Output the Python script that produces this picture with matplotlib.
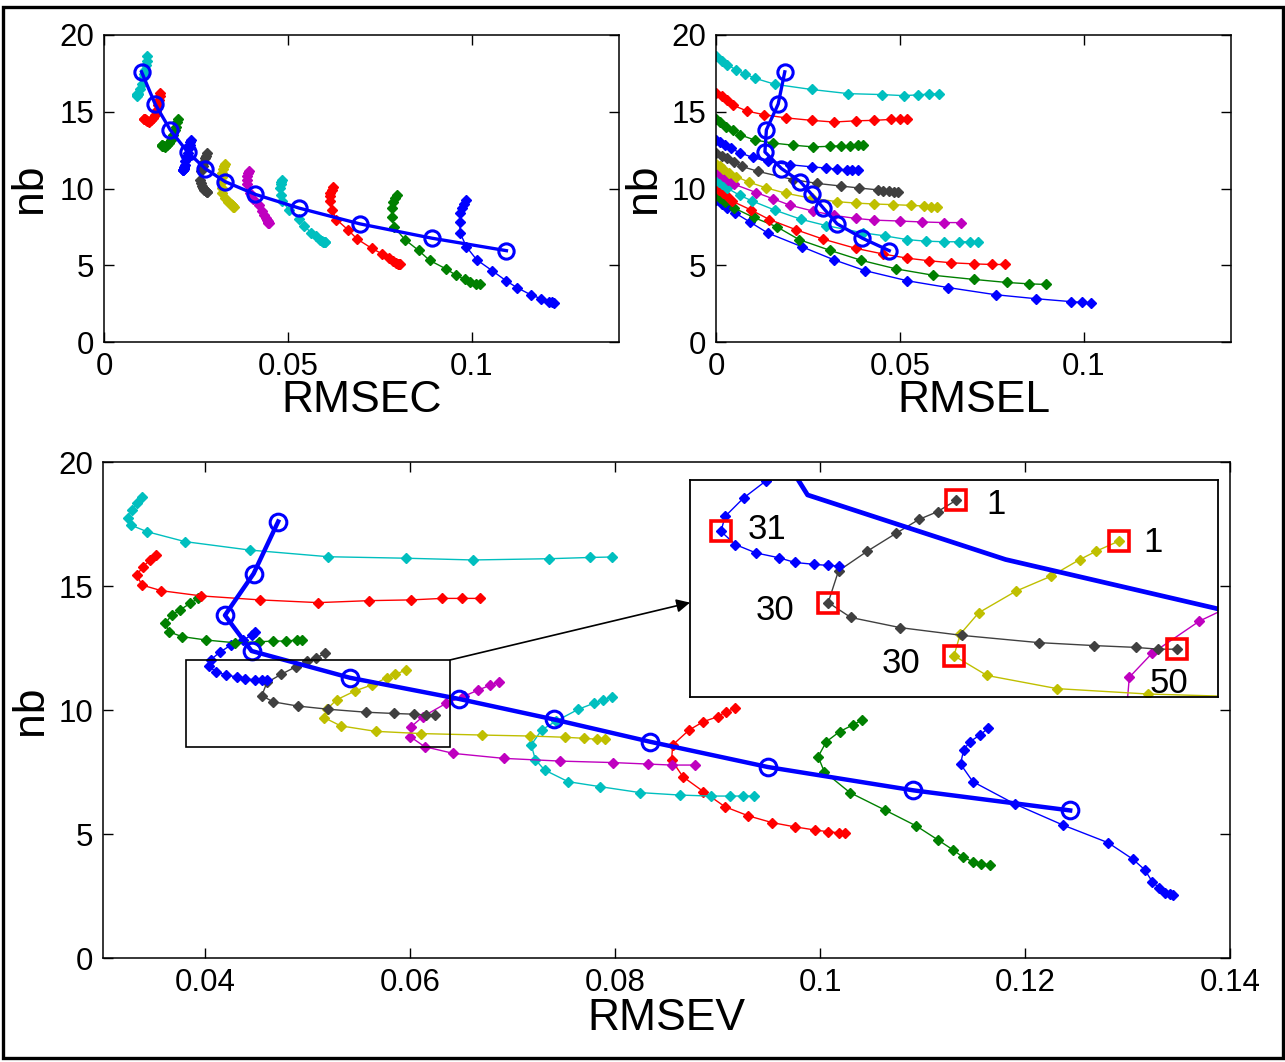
import matplotlib
matplotlib.use('Agg')
import matplotlib.pyplot as plt
from matplotlib.patches import Rectangle

plt.rcParams['font.family'] = ['Liberation Sans', 'DejaVu Sans']

# ---------------- data (nb shared by the three panels) ----------------
nb_1 = [9.27, 8.99, 8.72, 8.39, 7.82, 7.11, 6.21, 5.36, 4.65, 3.99, 3.55, 3.08, 2.82, 2.63, 2.58, 2.55]
rmsev_1 = [0.1164, 0.1156, 0.1146, 0.1140, 0.1137, 0.1149, 0.1190, 0.1237, 0.1281, 0.1305, 0.1317, 0.1324, 0.1331, 0.1337, 0.1341, 0.1344]
rmsel_1 = [0.0, 0.0015, 0.0030, 0.0053, 0.0092, 0.0140, 0.0233, 0.0320, 0.0405, 0.0520, 0.0630, 0.0760, 0.0870, 0.0965, 0.0995, 0.1020]
rmsec_1 = [0.0984, 0.0978, 0.0972, 0.0968, 0.0967, 0.0968, 0.0985, 0.1013, 0.1055, 0.1093, 0.1122, 0.1160, 0.1188, 0.1210, 0.1218, 0.1224]

nb_2 = [9.60, 9.40, 9.13, 8.72, 8.12, 7.51, 6.67, 5.97, 5.32, 4.76, 4.35, 4.08, 3.88, 3.79, 3.75]
rmsev_2 = [0.1041, 0.1032, 0.1019, 0.1006, 0.0998, 0.1004, 0.1029, 0.1063, 0.1094, 0.1115, 0.1130, 0.1139, 0.1149, 0.1157, 0.1166]
rmsel_2 = [0.0, 0.0010, 0.0025, 0.0050, 0.0102, 0.0165, 0.0226, 0.0310, 0.0395, 0.0490, 0.0590, 0.0700, 0.0790, 0.0850, 0.0896]
rmsec_2 = [0.0796, 0.0790, 0.0785, 0.0783, 0.0783, 0.0788, 0.0818, 0.0855, 0.0885, 0.0930, 0.0957, 0.0980, 0.0995, 0.1010, 0.1022]

nb_3 = [10.07, 9.93, 9.73, 9.53, 9.19, 8.59, 7.98, 7.31, 6.71, 6.10, 5.73, 5.46, 5.29, 5.16, 5.09, 5.05, 5.05]
rmsev_3 = [0.0917, 0.0908, 0.0900, 0.0886, 0.0872, 0.0856, 0.0855, 0.0866, 0.0886, 0.0907, 0.0930, 0.0953, 0.0975, 0.0995, 0.1008, 0.1018, 0.1024]
rmsel_3 = [0.0, 0.0008, 0.0020, 0.0030, 0.0043, 0.0096, 0.0145, 0.0218, 0.0290, 0.0380, 0.0455, 0.0520, 0.0580, 0.0640, 0.0700, 0.0750, 0.0786]
rmsec_3 = [0.0622, 0.0620, 0.0615, 0.0615, 0.0615, 0.0620, 0.0632, 0.0663, 0.0688, 0.0728, 0.0757, 0.0775, 0.0786, 0.0795, 0.0799, 0.0802, 0.0804]

nb_4 = [10.54, 10.40, 10.27, 10.03, 9.55, 9.19, 8.59, 8.00, 7.58, 7.11, 6.91, 6.67, 6.57, 6.53, 6.53, 6.53, 6.53]
rmsev_4 = [0.0797, 0.0788, 0.0779, 0.0764, 0.0742, 0.0728, 0.0718, 0.0722, 0.0731, 0.0754, 0.0785, 0.0824, 0.0863, 0.0893, 0.0912, 0.0925, 0.0935]
rmsel_4 = [0.0, 0.0008, 0.0016, 0.0030, 0.0065, 0.0098, 0.0160, 0.0230, 0.0300, 0.0400, 0.0460, 0.0520, 0.0570, 0.0620, 0.0660, 0.0690, 0.0713]
rmsec_4 = [0.0484, 0.0482, 0.0480, 0.0479, 0.0480, 0.0485, 0.0503, 0.0530, 0.0544, 0.0563, 0.0575, 0.0586, 0.0592, 0.0596, 0.0598, 0.0600, 0.0601]

nb_5 = [11.14, 11.00, 10.80, 10.55, 10.27, 9.73, 9.33, 8.92, 8.52, 8.25, 8.05, 7.94, 7.88, 7.82, 7.78, 7.78]
rmsev_5 = [0.0687, 0.0678, 0.0666, 0.0652, 0.0635, 0.0612, 0.0601, 0.0600, 0.0614, 0.0642, 0.0691, 0.0746, 0.0798, 0.0832, 0.0855, 0.0878]
rmsel_5 = [0.0, 0.0008, 0.0020, 0.0033, 0.0050, 0.0110, 0.0155, 0.0200, 0.0265, 0.0320, 0.0380, 0.0430, 0.0500, 0.0560, 0.0620, 0.0665]
rmsec_5 = [0.0393, 0.0392, 0.0390, 0.0388, 0.0389, 0.0397, 0.0405, 0.0420, 0.0429, 0.0436, 0.0441, 0.0443, 0.0445, 0.0446, 0.0447, 0.0448]

nb_6 = [11.61, 11.44, 11.30, 11.02, 10.77, 10.41, 10.05, 9.69, 9.36, 9.14, 9.05, 8.99, 8.95, 8.90, 8.86, 8.82, 8.82]
rmsev_6 = [0.0596, 0.0585, 0.0577, 0.0563, 0.0546, 0.0528, 0.0519, 0.0516, 0.0532, 0.0566, 0.0610, 0.0670, 0.0717, 0.0751, 0.0769, 0.0782, 0.0790]
rmsel_6 = [0.0, 0.0010, 0.0018, 0.0035, 0.0055, 0.0090, 0.0135, 0.0190, 0.0260, 0.0330, 0.0380, 0.0430, 0.0480, 0.0530, 0.0565, 0.0585, 0.0600]
rmsec_6 = [0.0328, 0.0326, 0.0324, 0.0321, 0.0320, 0.0320, 0.0320, 0.0320, 0.0330, 0.0338, 0.0342, 0.0345, 0.0347, 0.0349, 0.0351, 0.0352, 0.0353]

nb_7 = [12.29, 12.10, 11.97, 11.74, 11.44, 11.11, 10.58, 10.33, 10.16, 10.03, 9.91, 9.86, 9.83, 9.80, 9.80]
rmsev_7 = [0.0517, 0.0508, 0.0499, 0.0488, 0.0474, 0.0460, 0.0455, 0.0466, 0.0490, 0.0520, 0.0557, 0.0584, 0.0604, 0.0615, 0.0624]
rmsel_7 = [0.0, 0.0015, 0.0030, 0.0050, 0.0070, 0.0115, 0.0210, 0.0275, 0.0340, 0.0390, 0.0440, 0.0455, 0.0470, 0.0485, 0.0495]
rmsec_7 = [0.0279, 0.0276, 0.0274, 0.0271, 0.0268, 0.0265, 0.0262, 0.0263, 0.0266, 0.0269, 0.0273, 0.0276, 0.0278, 0.0280, 0.0281]

nb_8 = [13.16, 13.02, 12.82, 12.62, 12.33, 12.02, 11.77, 11.55, 11.41, 11.33, 11.25, 11.22, 11.20, 11.19]
rmsev_8 = [0.0448, 0.0445, 0.0437, 0.0425, 0.0414, 0.0405, 0.0403, 0.0410, 0.0420, 0.0431, 0.0439, 0.0448, 0.0455, 0.0460]
rmsel_8 = [0.0, 0.0010, 0.0025, 0.0040, 0.0065, 0.0100, 0.0140, 0.0200, 0.0260, 0.0300, 0.0330, 0.0355, 0.0370, 0.0385]
rmsec_8 = [0.0236, 0.0235, 0.0233, 0.0231, 0.0227, 0.0223, 0.0221, 0.0219, 0.0218, 0.0217, 0.0217, 0.0216, 0.0216, 0.0216]

nb_9 = [14.50, 14.30, 14.03, 13.83, 13.50, 13.16, 12.96, 12.82, 12.71, 12.75, 12.78, 12.78, 12.82, 12.82]
rmsev_9 = [0.0393, 0.0385, 0.0375, 0.0367, 0.0361, 0.0364, 0.0377, 0.0401, 0.0429, 0.0452, 0.0466, 0.0479, 0.0489, 0.0494]
rmsel_9 = [0.0, 0.0010, 0.0028, 0.0045, 0.0065, 0.0105, 0.0155, 0.0210, 0.0265, 0.0310, 0.0340, 0.0365, 0.0385, 0.0400]
rmsec_9 = [0.0202, 0.0198, 0.0195, 0.0192, 0.0188, 0.0183, 0.0178, 0.0172, 0.0167, 0.0163, 0.0160, 0.0158, 0.0157, 0.0157]

nb_10 = [16.25, 16.05, 15.78, 15.44, 15.04, 14.81, 14.60, 14.44, 14.33, 14.41, 14.44, 14.50, 14.50, 14.50]
rmsev_10 = [0.0352, 0.0346, 0.0339, 0.0333, 0.0338, 0.0357, 0.0396, 0.0453, 0.0510, 0.0560, 0.0601, 0.0631, 0.0650, 0.0668]
rmsel_10 = [0.0, 0.0015, 0.0030, 0.0045, 0.0085, 0.0130, 0.0190, 0.0260, 0.0320, 0.0380, 0.0430, 0.0475, 0.0500, 0.0520]
rmsec_10 = [0.0153, 0.0151, 0.0149, 0.0146, 0.0142, 0.0138, 0.0133, 0.0128, 0.0122, 0.0118, 0.0114, 0.0111, 0.0109, 0.0108]

nb_11 = [18.60, 18.33, 18.06, 17.73, 17.46, 17.19, 16.79, 16.45, 16.18, 16.12, 16.05, 16.10, 16.15, 16.17]
rmsev_11 = [0.0338, 0.0333, 0.0328, 0.0324, 0.0327, 0.0343, 0.0380, 0.0443, 0.0520, 0.0596, 0.0661, 0.0735, 0.0775, 0.0797]
rmsel_11 = [0.0, 0.0015, 0.0030, 0.0055, 0.0080, 0.0105, 0.0160, 0.0260, 0.0360, 0.0450, 0.0510, 0.0550, 0.0580, 0.0605]
rmsec_11 = [0.0118, 0.0117, 0.0114, 0.0112, 0.0110, 0.0107, 0.0103, 0.0097, 0.0093, 0.0091, 0.0090, 0.0090, 0.0091, 0.0092]

circ_nb = [17.60, 15.50, 13.82, 12.38, 11.30, 10.45, 9.62, 8.72, 7.70, 6.76, 5.95]
circ_rmsec = [0.0102, 0.0139, 0.0180, 0.0227, 0.0275, 0.0329, 0.0411, 0.0531, 0.0695, 0.0892, 0.1094]
circ_rmsel = [0.0187, 0.0169, 0.0137, 0.0133, 0.0178, 0.0229, 0.0260, 0.0292, 0.0329, 0.0398, 0.0471]
circ_rmsev = [0.0471, 0.0447, 0.0419, 0.0445, 0.0541, 0.0647, 0.0740, 0.0834, 0.0949, 0.1091, 0.1244]

mark_x = [0.0403, 0.0517, 0.0596, 0.0455, 0.0516, 0.0624]
mark_y = [11.77, 12.29, 11.61, 10.58, 9.69, 9.80]
mark_labels = ['31', '1', '1', '30', '30', '50']

top_xticks = [0, 0.05, 0.1]
top_xticklabels = ['0', '0.05', '0.1']
bot_xticks = [0.04, 0.06, 0.08, 0.1, 0.12, 0.14]
bot_xticklabels = ['0.04', '0.06', '0.08', '0.1', '0.12', '0.14']
yticks = [0, 5, 10, 15, 20]
yticklabels = ['0', '5', '10', '15', '20']

# ---------------- assemble ----------------
nbs = [nb_1, nb_2, nb_3, nb_4, nb_5, nb_6, nb_7, nb_8, nb_9, nb_10, nb_11]
rmsecs = [rmsec_1, rmsec_2, rmsec_3, rmsec_4, rmsec_5, rmsec_6, rmsec_7, rmsec_8, rmsec_9, rmsec_10, rmsec_11]
rmsels = [rmsel_1, rmsel_2, rmsel_3, rmsel_4, rmsel_5, rmsel_6, rmsel_7, rmsel_8, rmsel_9, rmsel_10, rmsel_11]
rmsevs = [rmsev_1, rmsev_2, rmsev_3, rmsev_4, rmsev_5, rmsev_6, rmsev_7, rmsev_8, rmsev_9, rmsev_10, rmsev_11]

order = [(0, 0, 1), (0, 0.5, 0), (1, 0, 0), (0, 0.75, 0.75), (0.75, 0, 0.75),
         (0.75, 0.75, 0), (0.25, 0.25, 0.25)]
colors = [order[i % 7] for i in range(11)]

W, H = 1285, 1062
fig = plt.figure(figsize=(W / 100, H / 100), dpi=100)


def fr(l, t, r, b):
    return [l / W, 1 - b / H, (r - l) / W, (b - t) / H]


ax1 = fig.add_axes(fr(104, 35, 619, 342))
ax2 = fig.add_axes(fr(716, 35, 1231, 342))
ax3 = fig.add_axes(fr(103, 462, 1230, 958))


def style(ax, xt, xtl):
    ax.set_xticks(xt)
    ax.set_xticklabels(xtl)
    ax.set_yticks(yticks)
    ax.set_yticklabels(yticklabels)
    ax.tick_params(direction='in', top=True, right=True, length=7, width=1,
                   labelsize=22.5, pad=7, colors='k')
    for s in ax.spines.values():
        s.set_linewidth(1.1)


thin = dict(lw=1.0, marker='D', ms=4.8)

for ax, xs in ((ax1, rmsecs), (ax2, rmsels), (ax3, rmsevs)):
    for k in range(11):
        ax.plot(xs[k], nbs[k], color=colors[k], mfc=colors[k], mec=colors[k], **thin)

ax1.plot(circ_rmsec, circ_nb, '-o', color='b', lw=2.4, ms=11, mfc='none', mew=2.2)
ax2.plot(circ_rmsel, circ_nb, '-o', color='b', lw=2.4, ms=11, mfc='none', mew=2.2)
ax3.plot(circ_rmsev, circ_nb, '-o', color='b', lw=3.2, ms=12, mfc='none', mew=2.2)

ax1.set_xlim(0, 0.14)
ax2.set_xlim(0, 0.14)
ax3.set_xlim(0.03, 0.14)
for ax in (ax1, ax2, ax3):
    ax.set_ylim(0, 20)
style(ax1, top_xticks, top_xticklabels)
style(ax2, top_xticks, top_xticklabels)
style(ax3, bot_xticks, bot_xticklabels)

ax1.set_xlabel('RMSEC', fontsize=32)
ax2.set_xlabel('RMSEL', fontsize=32)
ax3.set_xlabel('RMSEV', fontsize=32)
for ax in (ax1, ax2, ax3):
    ax.set_ylabel('nb', fontsize=32)
ax1.xaxis.set_label_coords(0.5, -0.125)
ax2.xaxis.set_label_coords(0.5, -0.125)
ax3.xaxis.set_label_coords(0.5, -0.08)
ax1.yaxis.set_label_coords(-0.105, 0.5)
ax2.yaxis.set_label_coords(-0.10, 0.5)
ax3.yaxis.set_label_coords(-0.046, 0.5)

# zoom rectangle on the bottom panel
ax3.add_patch(Rectangle((0.0381, 8.51), 0.0639 - 0.0381, 12.02 - 8.51,
                        fill=False, ec='k', lw=1.2, zorder=5))

# inset
axi = fig.add_axes(fr(690, 480, 1218, 697))
for k in (4, 5, 6, 7):
    axi.plot(rmsevs[k], nbs[k], color=colors[k], mfc=colors[k], mec=colors[k],
             lw=1.0, marker='D', ms=4.8)
axi.plot(circ_rmsev, circ_nb, '-', color='b', lw=3.4)
axi.plot(mark_x, mark_y, 's', ms=15, mfc='none', mec='red', mew=2.6)
axi.set_xlim(0.0388, 0.0644)
axi.set_ylim(9.0, 12.63)
axi.set_xticks([])
axi.set_yticks([])
for s in axi.spines.values():
    s.set_linewidth(1.3)

label_pos = [(0.110, 0.771, 'left'), (0.579, 0.885, 'center'), (0.877, 0.71, 'center'),
             (0.161, 0.397, 'center'), (0.399, 0.153, 'center'), (0.907, 0.061, 'center')]
for (lx, ly, ha), txt in zip(label_pos, mark_labels):
    axi.text(lx, ly, txt, transform=axi.transAxes, fontsize=25, ha=ha, va='center')

ax3.annotate('', xy=(0, 0.435), xycoords=axi.transAxes,
             xytext=(0.0639, 12.02), textcoords='data',
             arrowprops=dict(arrowstyle='-|>', color='k', lw=1.2,
                             mutation_scale=20, shrinkA=0, shrinkB=0),
             annotation_clip=False)

# outer frame
fig.patches.append(Rectangle((3 / W, 4 / H), 1280 / W, 1051 / H, transform=fig.transFigure,
                             fill=False, ec='k', lw=2.4))

fig.savefig('out.png', dpi=100)
